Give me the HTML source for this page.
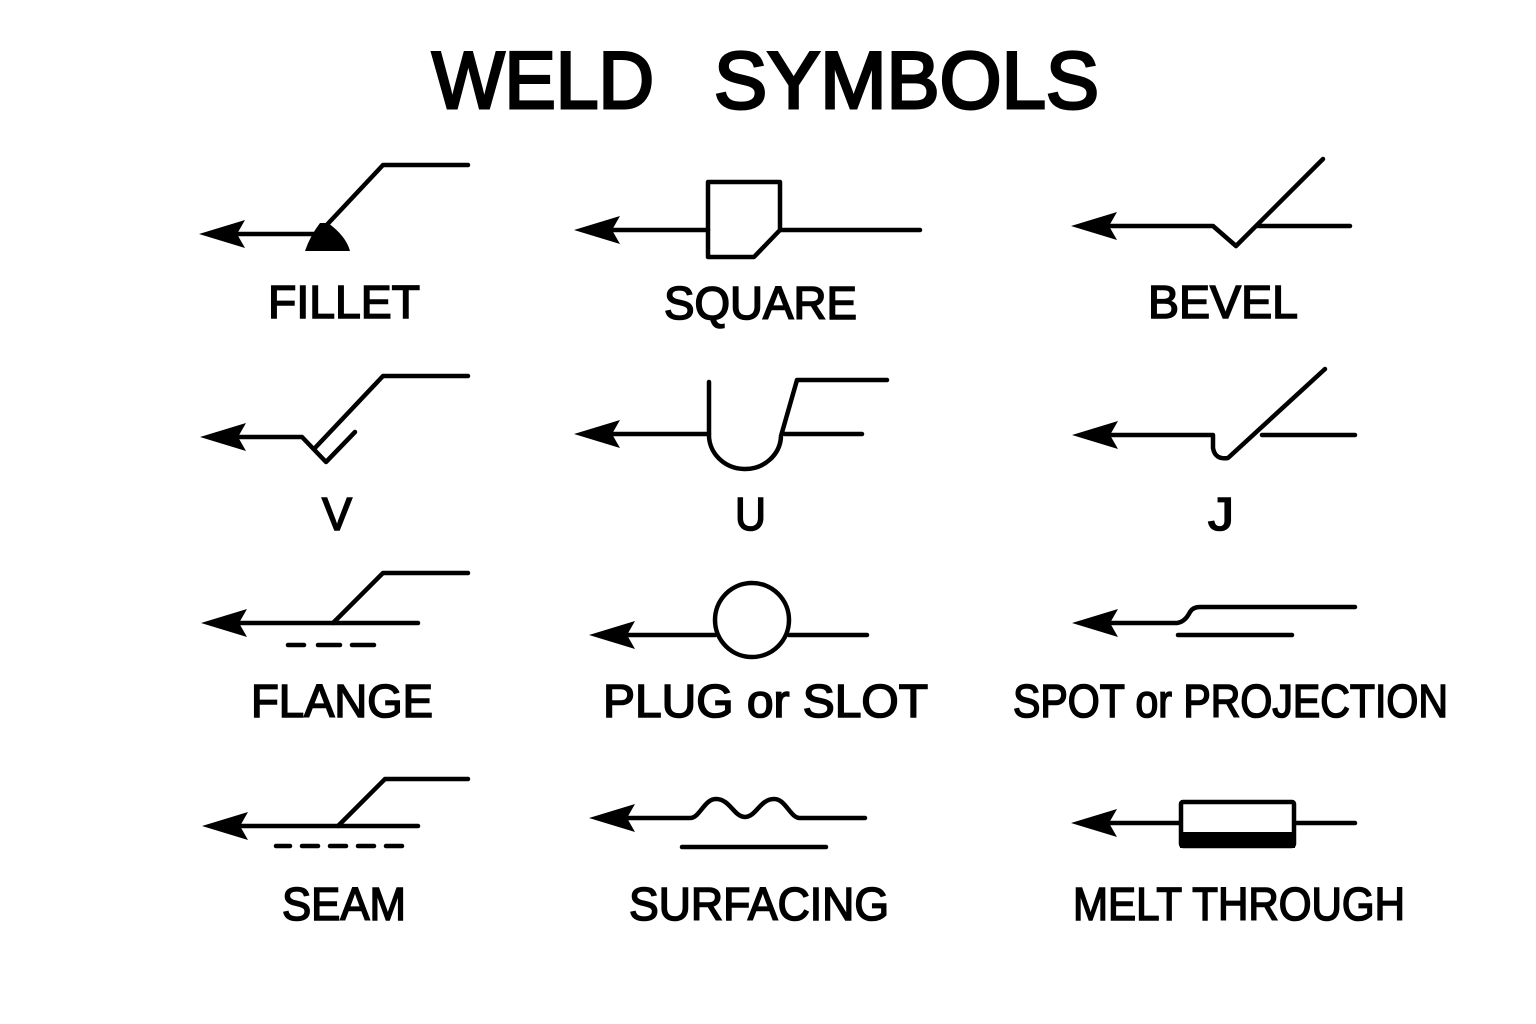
<!DOCTYPE html>
<html><head><meta charset="utf-8"><style>
html,body{margin:0;padding:0;background:#fff;}
svg{display:block;}
text{font-family:"Liberation Sans","DejaVu Sans",sans-serif;font-weight:bold;fill:#000;}
.t{font-weight:normal;stroke:#000;stroke-width:3;}
.l{font-weight:normal;stroke:#000;stroke-width:1.6;}
</style></head><body>
<svg width="1536" height="1024" viewBox="0 0 1536 1024" xmlns="http://www.w3.org/2000/svg">
<defs>
<path id="ah" d="M0,0 L46,-14 L38,0 L46,14 Z" fill="#000"/>
</defs>
<rect width="1536" height="1024" fill="#fff"/>
<text class="t" x="432" y="108" font-size="81" textLength="222" lengthAdjust="spacingAndGlyphs">WELD</text>
<text class="t" x="714" y="108" font-size="81" textLength="385" lengthAdjust="spacingAndGlyphs">SYMBOLS</text>

<g stroke="#000" stroke-width="4.5" fill="none" stroke-linecap="round" stroke-linejoin="round">
<line x1="230" y1="234" x2="320" y2="234"/>
<polyline points="322,230 383,165 468,165"/>
<polyline points="230,437 302,437 326,462 355,432"/>
<polyline points="314,449 383,376 468,376"/>
<line x1="230" y1="623" x2="418" y2="623"/>
<polyline points="333,623 383,573 468,573"/>
<line x1="288" y1="645" x2="304" y2="645"/><line x1="318" y1="645" x2="340" y2="645"/><line x1="352" y1="645" x2="374" y2="645"/>
<line x1="230" y1="826" x2="418" y2="826"/>
<polyline points="338,826 385,779 468,779"/>
<line x1="276" y1="846" x2="290" y2="846"/><line x1="302" y1="846" x2="318" y2="846"/><line x1="330" y1="846" x2="346" y2="846"/><line x1="358" y1="846" x2="374" y2="846"/><line x1="386" y1="846" x2="402" y2="846"/>

<line x1="605" y1="230" x2="708" y2="230"/>
<line x1="780" y1="230" x2="920" y2="230"/>
<path d="M708,182 L780,182 L780,230 L754,257 L708,257 Z"/>
<line x1="605" y1="434" x2="709" y2="434"/>
<path d="M709,382 L709,434 A36,34 0 0 0 781,436 L797,380 L887,380"/>
<line x1="785" y1="434" x2="862" y2="434"/>
<line x1="620" y1="635" x2="715" y2="635"/>
<line x1="789" y1="635" x2="867" y2="635"/>
<circle cx="752" cy="620" r="37"/>
<path d="M620,818 L690,818 C700,818 704,799 716,799 C730,799 734,817 745,817 C756,817 760,799 774,799 C786,799 790,818 800,818 L865,818"/>
<line x1="682" y1="847" x2="826" y2="847"/>

<polyline points="1100,226 1213,226 1236,246 1323,159"/>
<line x1="1258" y1="226" x2="1350" y2="226"/>
<path d="M1100,435 L1213,435 L1213,448 Q1215,460 1228,458 L1325,369"/>
<line x1="1262" y1="435" x2="1355" y2="435"/>
<path d="M1100,623 L1177,623 Q1185,622 1190,612 Q1193,607 1200,607 L1355,607"/>
<line x1="1178" y1="635" x2="1292" y2="635"/>
<line x1="1100" y1="823" x2="1180" y2="823"/>
<line x1="1295" y1="823" x2="1355" y2="823"/>
<rect x="1181" y="802" width="113" height="44" rx="2"/>
</g>
<rect x="1180" y="832" width="115" height="16" fill="#000"/>
<path d="M305,251 L350,251 Q346,236 328,223 L320,223 Q310,236 305,251 Z" fill="#000"/>

<use href="#ah" x="199" y="234"/>
<use href="#ah" x="200" y="437"/>
<use href="#ah" x="201" y="623"/>
<use href="#ah" x="202" y="826"/>
<use href="#ah" x="574" y="230"/>
<use href="#ah" x="574" y="434"/>
<use href="#ah" x="589" y="635"/>
<use href="#ah" x="589" y="818"/>
<use href="#ah" x="1071" y="226"/>
<use href="#ah" x="1072" y="435"/>
<use href="#ah" x="1072" y="623"/>
<use href="#ah" x="1071" y="823"/>

<g font-size="46" class="l">
<text class="l" x="268" y="318" textLength="152" lengthAdjust="spacingAndGlyphs">FILLET</text>
<text class="l" x="664" y="319" textLength="193" lengthAdjust="spacingAndGlyphs">SQUARE</text>
<text class="l" x="1148" y="318" textLength="150" lengthAdjust="spacingAndGlyphs">BEVEL</text>
<text class="l" x="322" y="530" textLength="30" lengthAdjust="spacingAndGlyphs">V</text>
<text class="l" x="735" y="530" textLength="31" lengthAdjust="spacingAndGlyphs">U</text>
<text class="l" x="1208" y="530" textLength="26" lengthAdjust="spacingAndGlyphs">J</text>
<text class="l" x="251" y="717" textLength="182" lengthAdjust="spacingAndGlyphs">FLANGE</text>
<text class="l" x="603" y="717" textLength="325" lengthAdjust="spacingAndGlyphs">PLUG or SLOT</text>
<text class="l" x="1013" y="717" textLength="435" lengthAdjust="spacingAndGlyphs">SPOT or PROJECTION</text>
<text class="l" x="282" y="920" textLength="124" lengthAdjust="spacingAndGlyphs">SEAM</text>
<text class="l" x="629" y="920" textLength="260" lengthAdjust="spacingAndGlyphs">SURFACING</text>
<text class="l" x="1073" y="920" textLength="332" lengthAdjust="spacingAndGlyphs">MELT THROUGH</text>
</g>
</svg>
</body></html>
